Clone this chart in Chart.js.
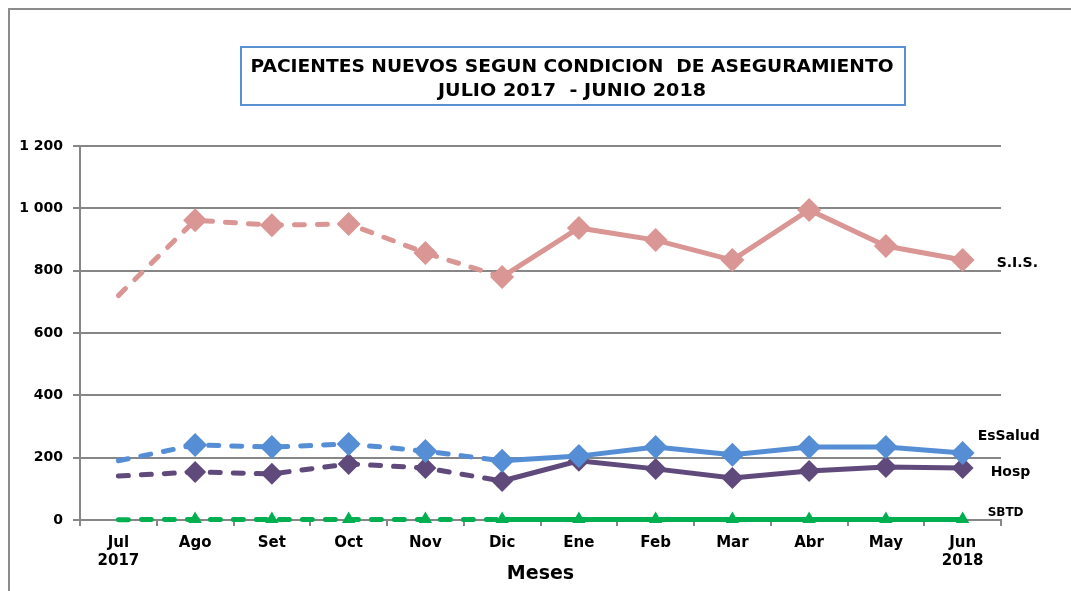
<!DOCTYPE html>
<html>
<head>
<meta charset="utf-8">
<script src="https://cdn.jsdelivr.net/npm/chart.js@4/dist/chart.umd.min.js"></script>
<style>
  html, body { margin: 0; padding: 0; background: #fff; }
  #wrap { width: 1071px; height: 591px; position: relative; }
</style>
</head>
<body>
<div id="wrap"><canvas id="chart"></canvas></div>
<script>
const months = [["Jul", "2017"], "Ago", "Set", "Oct", "Nov", "Dic", "Ene", "Feb", "Mar", "Abr", "May", ["Jun", "2018"]];
const sis = [720, 962, 946, 950, 857, 780, 937, 898, 834, 995, 879, 834];
const essalud = [190, 241, 234, 244, 221, 190, 205, 234, 209, 234, 234, 215];
const hosp = [141, 154, 148, 180, 167, 125, 190, 164, 135, 157, 170, 167];
const sbtd = [1, 2, 2, 2, 2, 2, 2, 2, 2, 2, 2, 2];
const seriesNames = ["S.I.S.", "EsSalud", "Hosp", "SBTD"];

const FONT = "'DejaVu Sans', Verdana, sans-serif";
const GRID = "#868686";

// punteado de Jul a Dic, continuo desde Dic
const dashed = ctx => ctx.p1DataIndex <= 5 ? [10, 13] : undefined;
const radii = n => months.map((_, i) => i === 0 ? 0 : n);

function serie(label, data, color, style, r) {
  return {
    label, data,
    borderColor: color, backgroundColor: color,
    borderWidth: 5, borderCapStyle: "round",
    pointStyle: style, pointRadius: radii(r), pointHoverRadius: radii(r),
    pointBorderWidth: 0,
    segment: { borderDash: dashed },
    clip: { left: 20, top: 20, right: 20, bottom: 3 }
  };
}

// marco, titulo y etiquetas de series
const extras = {
  id: "extras",
  beforeDraw(chart) {
    const c = chart.ctx;
    c.save();
    c.strokeStyle = "#8c8c8c";
    c.lineWidth = 2;
    c.beginPath();
    c.moveTo(9, 591); c.lineTo(9, 9); c.lineTo(1071, 9);
    c.stroke();
    c.restore();
  },
  afterDraw(chart) {
    const c = chart.ctx;
    c.save();
    c.strokeStyle = "#5b8fd4";
    c.lineWidth = 2;
    c.strokeRect(241, 47, 664, 58);
    c.fillStyle = "#000";
    c.textAlign = "center";
    c.textBaseline = "middle";
    c.font = "bold 18px " + FONT;
    const lines = [["PACIENTES NUEVOS SEGUN CONDICION  DE ASEGURAMIENTO", 67, 643], ["JULIO 2017  - JUNIO 2018", 91, 268]];
    lines.forEach(([t, y, w]) => {
      const m = c.measureText(t).width;
      c.save();
      c.translate(572, y);
      c.scale(w / m, 1);
      c.fillText(t, 0, 0);
      c.restore();
    });

    const offs = [[34, 3, 14], [15, -17, 14], [28, 4, 14], [25, -7, 12]];
    c.textAlign = "left";
    chart.data.datasets.forEach((ds, i) => {
      const pts = chart.getDatasetMeta(i).data;
      const p = pts[pts.length - 1];
      const [dx, dy, fs] = offs[i];
      c.font = "bold " + fs + "px " + FONT;
      c.fillText(seriesNames[i], p.x + dx, p.y + dy);
    });
    c.restore();
  }
};

new Chart(document.getElementById("chart"), {
  type: "line",
  data: {
    labels: months,
    datasets: [
      serie("S.I.S.", sis, "#d99694", "rectRot", 12),
      serie("EsSalud", essalud, "#558ed5", "rectRot", 12),
      serie("Hosp", hosp, "#604a7b", "rectRot", 11),
      serie("SBTD", sbtd, "#00b050", "triangle", 8)
    ]
  },
  options: {
    responsive: true,
    maintainAspectRatio: false,
    animation: false,
    layout: { padding: { left: 0, top: 146, right: 70, bottom: 0 } },
    plugins: {
      legend: { display: false },
      tooltip: { enabled: false },
      title: { display: false }
    },
    scales: {
      x: {
        offset: true,
        afterFit: s => { s.height = 71; },
        grid: { offset: true, drawOnChartArea: false, drawTicks: true, tickLength: 6, color: GRID, lineWidth: 2 },
        border: { color: GRID, width: 2 },
        ticks: { color: "#000", font: { family: FONT, weight: "bold", size: 15 }, padding: 8, maxRotation: 0, autoSkip: false },
        title: { display: true, text: "Meses", color: "#000", font: { family: FONT, weight: "bold", size: 19 }, padding: { top: 0, bottom: 6 } }
      },
      y: {
        min: 0, max: 1200,
        afterFit: s => { s.width = 80; },
        grid: { color: GRID, lineWidth: 2, tickLength: 7 },
        border: { color: GRID, width: 2 },
        ticks: {
          stepSize: 200, color: "#000", padding: 10,
          font: { family: FONT, weight: "bold", size: 14 },
          callback: v => v >= 1000 ? Math.floor(v / 1000) + " " + String(v % 1000).padStart(3, "0") : v
        }
      }
    }
  },
  plugins: [extras]
});
</script>
</body>
</html>
